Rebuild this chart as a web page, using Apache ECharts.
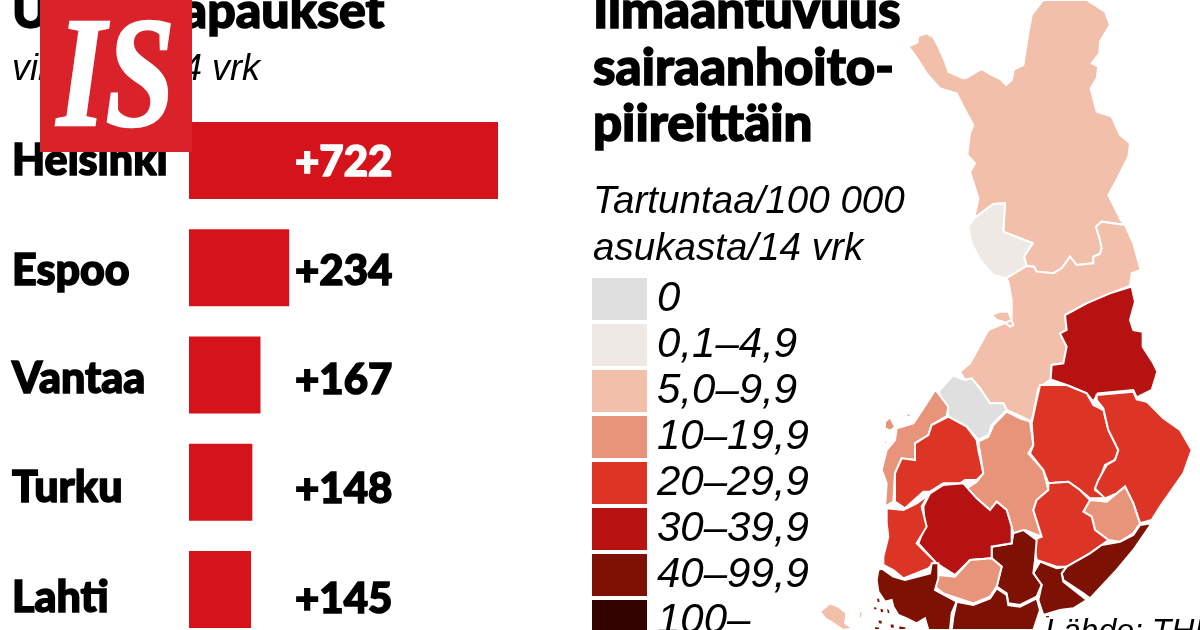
<!DOCTYPE html>
<html>
<head>
<meta charset="utf-8">
<title>Uudet tapaukset</title>
<script src="https://cdn.jsdelivr.net/npm/echarts@6/dist/echarts.min.js"></script>
<style>html,body{margin:0;background:#fff}</style>
</head>
<body>
<div id="main" style="width:1200px;height:630px"></div>
<script>
// bar chart
var cities = ['Helsinki', 'Espoo', 'Vantaa', 'Turku', 'Lahti'];
var cases = [722, 234, 167, 148, 145];

// legend classes
var classLabels = ['0', '0,1–4,9', '5,0–9,9', '10–19,9', '20–29,9', '30–39,9', '40–99,9', '100–'];
var classMin = [0, 0.1, 5, 10, 20, 30, 40, 100];
var classMax = [0, 5, 10, 20, 30, 40, 100, 1000];
var classColors = ['#dfdfdf', '#efe9e6', '#f2bfab', '#e8947a', '#dc3526', '#b51211', '#7d1204', '#330300'];

// hospital districts, incidence is only readable as a class from the map
var regionNames = ['Lappi', 'Länsi-Pohja', 'Pohjois-Pohjanmaa', 'Kainuu', 'Keski-Pohjanmaa', 'Vaasa', 'Etelä-Pohjanmaa',
  'Keski-Suomi', 'Pohjois-Savo', 'Pohjois-Karjala', 'Itä-Savo', 'Etelä-Savo', 'Etelä-Karjala', 'Kymenlaakso',
  'Päijät-Häme', 'Pirkanmaa', 'Satakunta', 'Kanta-Häme', 'Varsinais-Suomi', 'HUS', 'Ahvenanmaa'];
var regionValues = [7, 3, 7, 35, 0, 15, 25, 15, 25, 25, 15, 25, 60, 60, 60, 35, 25, 15, 60, 60, 7];

// district outlines (3x px, origin at 800,310)
var regionShapes = [
  [[[325,-790],[352,-802],[355,-822],[380,-830],[400,-818],[415,-790],[435,-745],[445,-715],[490,-695],[502,-698],[545,-723],[570,-708],[602,-692],[618,-675],[635,-690],[642,-722],[670,-735],[677,-780],[685,-830],[695,-885],[730,-930],[860,-930],[915,-895],[930,-855],[900,-805],[898,-770],[875,-740],[895,-730],[890,-695],[872,-665],[890,-595],[935,-580],[960,-525],[990,-500],[985,-460],[950,-390],[925,-345],[962,-270],[975,-255],[905,-265],[888,-250],[900,-210],[905,-185],[900,-168],[880,-160],[880,-140],[830,-135],[810,-160],[785,-125],[760,-110],[710,-115],[702,-130],[680,-132],[672,-160],[698,-200],[610,-235],[615,-320],[580,-318],[522,-275],[528,-300],[535,-335],[510,-415],[525,-440],[502,-465],[510,-530],[520,-555],[490,-610],[470,-650],[420,-665],[380,-710],[345,-765]]],
  [[[522,-275],[580,-318],[615,-320],[610,-235],[698,-200],[672,-160],[680,-132],[618,-95],[580,-105],[540,-150],[515,-200],[505,-250]]],
  [[[618,-95],[680,-132],[702,-130],[710,-115],[760,-110],[785,-125],[810,-160],[830,-135],[880,-140],[880,-160],[900,-168],[905,-185],[900,-210],[888,-250],[905,-265],[975,-255],[1000,-200],[1022,-120],[995,-110],[990,-72],[930,-50],[860,-20],[795,15],[800,60],[780,70],[800,110],[790,160],[755,165],[752,208],[715,235],[695,335],[660,318],[620,300],[610,280],[570,280],[540,235],[515,205],[495,210],[480,185],[510,160],[565,60],[635,30],[635,-30],[625,-85]],
   [[575,15],[600,5],[625,5],[640,45],[630,50],[610,35],[590,30]]],
  [[[795,15],[860,-20],[930,-50],[995,-70],[1005,-25],[990,30],[1000,60],[1028,65],[1028,110],[1060,160],[1072,185],[1055,240],[1010,262],[1000,240],[893,250],[880,275],[860,250],[800,225],[752,208],[755,165],[790,160],[800,110],[780,70],[800,60]]],
  [[[415,245],[460,195],[480,205],[495,210],[515,205],[540,235],[570,280],[610,280],[620,300],[575,345],[565,375],[535,390],[500,350],[445,320],[440,290]]],
  [[[405,240],[415,250],[445,290],[440,318],[395,345],[385,375],[345,400],[345,450],[305,445],[285,490],[280,575],[255,590],[260,520],[245,480],[260,420],[285,390],[290,355],[340,340],[360,310],[390,265]],
   [[255,335],[270,322],[285,350],[272,362],[255,355]], [[225,392],[232,392],[232,400],[225,400]], [[252,392],[260,392],[260,402],[252,402]], [[320,310],[332,312],[330,322],[320,320]]],
  [[[445,320],[500,350],[530,390],[535,420],[550,490],[530,510],[495,510],[480,520],[430,520],[390,545],[370,545],[315,595],[285,575],[285,490],[305,445],[345,450],[345,400],[385,375],[395,345]]],
  [[[620,305],[660,325],[690,335],[700,405],[685,430],[730,480],[745,540],[710,570],[700,600],[725,680],[675,660],[640,670],[620,600],[590,575],[570,600],[530,565],[500,535],[530,515],[550,490],[535,395],[565,380],[580,345]]],
  [[[720,225],[800,225],[860,250],[880,285],[910,300],[925,360],[955,420],[945,450],[915,465],[895,520],[885,540],[920,565],[870,565],[840,540],[805,515],[745,520],[730,480],[690,430],[700,405],[695,340],[710,270]]],
  [[[890,255],[1000,245],[1010,268],[1040,275],[1090,325],[1140,360],[1175,420],[1150,490],[1080,590],[1055,630],[1020,640],[1000,580],[975,530],[950,550],[915,565],[885,535],[895,510],[920,465],[945,450],[955,420],[925,360],[910,295],[890,270]]],
  [[[870,570],[920,575],[975,530],[1000,580],[1020,640],[1000,670],[960,695],[925,690],[885,660],[875,620],[850,605]]],
  [[[745,520],[805,515],[840,540],[870,570],[850,605],[875,620],[885,660],[925,690],[905,705],[870,730],[800,770],[770,770],[710,750],[700,690],[725,680],[700,600],[710,570],[745,540]]],
  [[[1055,640],[1000,720],[950,780],[870,865],[850,850],[790,810],[785,790],[800,770],[870,730],[905,705],[960,695],[1000,675],[1020,645]]],
  [[[720,755],[770,775],[800,770],[785,790],[790,815],[860,870],[820,895],[780,900],[730,915],[715,870],[725,825],[700,790]]],
  [[[670,660],[710,690],[705,750],[700,790],[725,825],[710,860],[660,885],[625,880],[620,850],[590,830],[605,770],[575,745],[575,710],[635,700],[640,670]]],
  [[[490,520],[530,565],[570,600],[590,575],[620,600],[635,650],[635,700],[575,710],[575,745],[510,750],[465,795],[425,770],[410,760],[355,700],[375,650],[370,590],[390,550],[430,525]]],
  [[[260,595],[310,600],[350,580],[385,555],[365,590],[380,650],[350,700],[405,755],[385,775],[310,805],[280,780],[250,765],[250,740],[265,680],[260,640]]],
  [[[510,750],[575,745],[605,770],[590,830],[570,860],[520,880],[475,865],[430,850],[405,830],[415,795],[465,800]]],
  [[[235,780],[245,775],[280,800],[315,810],[390,790],[395,760],[415,760],[415,805],[405,840],[470,875],[455,910],[450,960],[385,960],[375,925],[350,940],[320,925],[295,915],[280,890],[275,870],[255,875],[235,845],[230,810]],
   [[228,862],[240,864],[242,880],[230,878]], [[218,888],[232,890],[232,902],[220,900]], [[238,892],[252,896],[252,910],[240,908]], [[258,888],[270,900],[272,915],[260,910]], [[232,928],[248,930],[248,945],[234,942]], [[268,938],[284,942],[284,958],[270,955]], [[222,948],[240,950],[240,960],[222,960]], [[295,945],[320,950],[318,960],[295,960]]],
  [[[470,875],[520,885],[570,865],[590,835],[620,855],[625,885],[660,890],[710,865],[720,900],[700,960],[455,960],[460,920]],
   [[735,915],[750,915],[750,925],[735,925]]],
  [[[60,905],[90,880],[115,890],[140,910],[135,940],[160,955],[130,960],[100,940],[75,925]], [[178,905],[188,900],[186,925],[176,925]]]
];

// islands become extra polygons of the same district
var finland = {
  type: 'FeatureCollection',
  features: regionNames.map(function (name, i) {
    return {
      type: 'Feature',
      properties: { name: name },
      geometry: {
        type: 'MultiPolygon',
        coordinates: regionShapes[i].map(function (ring) {
          var pts = ring.map(function (p) { return [p[0], -p[1]]; });
          pts.push(pts[0]);
          return [pts];
        })
      }
    };
  })
};
echarts.registerMap('finland', finland);

var heavy = 'Lato';
var light = '"Liberation Sans"';

// row texts sit a little lower than the bars, more so further down
var nameShift = [1, 3, 4, 6, 9];
var valueShift = [2, 4, 5, 7, 10];

var nameRich = {};
nameShift.forEach(function (s, i) {
  nameRich['r' + i] = { padding: [2 * s, 0, 0, 0], color: '#000', fontFamily: heavy, fontWeight: 900, fontSize: 43, textBorderColor: '#000', textBorderWidth: 1.5 };
});

// y is the text baseline
function heading(text, x, y, size) {
  return { type: 'text', x: x, y: y - 0.83 * size, z: 5, style: { text: text, fill: '#000', stroke: '#000', lineWidth: 1.5,
    font: '900 ' + size + 'px ' + heavy } };
}
function note(text, x, y, size) {
  return { type: 'text', x: x, y: y - 0.83 * size, z: 5, style: { text: text, fill: '#000',
    font: 'italic ' + size + 'px ' + light } };
}

var myChart = echarts.init(document.getElementById('main'));

myChart.setOption({
  animation: false,
  backgroundColor: '#fff',
  grid: { left: 189, top: 107, width: 309, height: 536, outerBoundsMode: 'none' },
  xAxis: { type: 'value', min: 0, max: 722, show: false },
  yAxis: {
    type: 'category', inverse: true, data: cities,
    axisLine: { show: false }, axisTick: { show: false },
    axisLabel: {
      align: 'left', margin: 177, rich: nameRich,
      formatter: function (v, i) { return '{r' + i + '|' + v + '}'; }
    }
  },
  visualMap: {
    type: 'piecewise', seriesIndex: 1, orient: 'vertical', left: 592, top: 278, padding: 0,
    itemWidth: 55, itemHeight: 42, itemGap: 4, textGap: 10, hoverLink: false, selectedMode: false,
    align: 'left', inverse: true, itemSymbol: 'rect',
    pieces: classLabels.map(function (label, i) {
      return { min: classMin[i], max: classMax[i], label: label, color: classColors[i], symbol: 'rect' };
    }),
    textStyle: { color: '#000', fontFamily: light, fontStyle: 'italic', fontSize: 42 }
  },
  series: [
    {
      type: 'bar', barWidth: 77,
      // only the long bar holds its number in white
      data: cases.map(function (v, i) {
        var c = i === 0 ? '#fff' : '#000';
        return { value: v, label: { color: c, textBorderColor: c, position: [106, 38.5 + valueShift[i]] } };
      }),
      itemStyle: { color: '#d5131a' },
      label: {
        show: true, verticalAlign: 'middle',
        fontFamily: heavy, fontWeight: 900, fontSize: 42, textBorderWidth: 1.5,
        formatter: function (p) { return '+' + p.value; }
      }
    },
    {
      type: 'map', map: 'finland', silent: true, aspectScale: 1,
      left: 800, top: 0, width: 400, height: 630,
      boundingCoords: [[0, 930], [1200, -960]],
      label: { show: false },
      itemStyle: { borderColor: '#fff', borderWidth: 2 },
      data: regionNames.map(function (name, i) { return { name: name, value: regionValues[i] }; })
    }
  ],
  graphic: [
    heading('Uudet tapaukset', 12, 28, 50),
    note('viimeiset 14 vrk', 12, 82, 36),
    heading('Ilmaantuvuus', 593, 28, 51),
    heading('sairaanhoito-', 593, 85, 51),
    heading('piireittäin', 593, 141, 51),
    note('Tartuntaa/100 000', 593, 215, 38.6),
    note('asukasta/14 vrk', 593, 262, 38.6),
    note('Lähde: THL', 1045, 643, 32),
    { type: 'rect', z: 100, shape: { x: 40, y: 0, width: 152, height: 152 }, style: { fill: '#d9222a' } },
    { type: 'text', z: 101, x: 57, y: 136 - 0.83 * 156, scaleX: 0.8, style: { text: 'IS', fill: '#fff', stroke: '#fff', lineWidth: 2.5, font: 'italic bold 156px "Liberation Serif"' } }
  ]
});

// no tt / ti ligatures, the newspaper face has none
var zr = myChart.getZr();
zr.flush();
var cv = myChart.getDom().querySelector('canvas');
if (cv) {
  cv.getContext('2d').textRendering = 'optimizeSpeed';
  zr.refreshImmediately();
}
</script>
</body>
</html>
